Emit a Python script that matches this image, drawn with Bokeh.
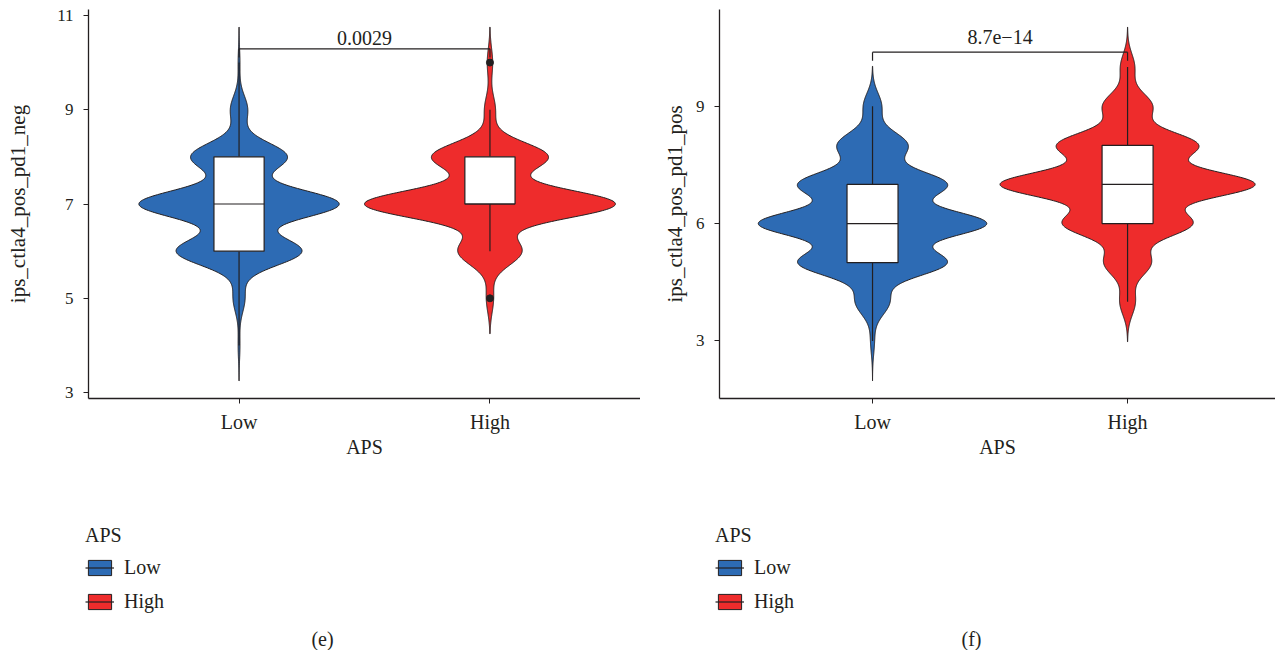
import numpy as np
from bokeh.plotting import figure
from bokeh.layouts import row, column
from bokeh.models import FixedTicker, Legend, LegendItem, Label, Range1d
from bokeh.embed import file_html
from bokeh.resources import INLINE

# ---------------- data ----------------
groups = ["Low", "High"]
group_colors = ["#2D6BB4", "#EE2C2C"]

# panel (e): ips_ctla4_pos_pd1_neg  -- counts of patients per integer score
scores_e = [4, 5, 6, 7, 8, 9, 10]
low_counts_e = [2, 13, 138, 220, 106, 19, 2]
high_counts_e = [0, 4, 35, 138, 64, 6, 3]
yticks_e = [3, 5, 7, 9, 11]
pval_e = "0.0029"

# panel (f): ips_ctla4_pos_pd1_pos
scores_f = [3, 4, 5, 6, 7, 8, 9, 10]
low_counts_f = [3, 26, 114, 175, 114, 54, 14, 0]
high_counts_f = [0, 12, 36, 99, 196, 108, 38, 11]
yticks_f = [3, 6, 9]
pval_f = "8.7e\u221214"

# gaussian density bandwidth and tail cut (in bandwidths) per panel
bw_e, cut_e = 0.30, 2.5
bw_f, cut_f = 0.34, 3.0

FONT = "Liberation Serif"
INK = "#231f20"


def kde(scores, counts, bw, cut, n=512):
    s = np.asarray(scores, float)
    c = np.asarray(counts, float)
    m = c > 0
    s, c = s[m], c[m]
    y = np.linspace(s.min() - cut * bw, s.max() + cut * bw, n)
    d = (c[None, :] * np.exp(-0.5 * ((y[:, None] - s[None, :]) / bw) ** 2)).sum(1)
    d /= c.sum() * bw * np.sqrt(2 * np.pi)
    return y, d


def box_stats(scores, counts):
    data = np.repeat(np.asarray(scores, float), counts)
    q1, med, q3 = np.percentile(data, [25, 50, 75])
    iqr = q3 - q1
    lo_f, hi_f = q1 - 1.5 * iqr, q3 + 1.5 * iqr
    wlo = data[data >= lo_f].min()
    whi = data[data <= hi_f].max()
    out = np.unique(data[(data < lo_f) | (data > hi_f)])
    return q1, med, q3, wlo, whi, out


def violin_shapes(scores, counts_list, bw, cut):
    dens = [kde(scores, c, bw, cut) for c in counts_list]
    dmax = max(d.max() for _, d in dens)
    shapes = []
    for i, (y, d) in enumerate(dens):
        cx = i + 1
        hw = 0.5 * d / dmax
        shapes.append((np.concatenate([cx - hw, (cx + hw)[::-1]]), np.concatenate([y, y[::-1]])))
    ymin = min(y.min() for y, _ in dens)
    ymax = max(y.max() for y, _ in dens)
    return shapes, ymin, ymax


def style_axis(ax):
    ax.axis_line_color = INK
    ax.axis_line_width = 1.3
    ax.major_tick_line_color = INK
    ax.major_tick_line_width = 1
    ax.major_tick_out = 5
    ax.major_tick_in = 0
    ax.minor_tick_line_color = None
    ax.major_label_text_font = FONT
    ax.major_label_text_color = INK
    ax.axis_label_text_font = FONT
    ax.axis_label_text_color = INK
    ax.axis_label_text_font_style = "normal"


def make_panel(scores, counts_list, bw, cut, yticks, ylabel, pval, pval_y, bracket_y,
               width, border_left, x_end, ylab_standoff):
    shapes, ymin, ymax = violin_shapes(scores, counts_list, bw, cut)
    pad = 0.05 * (ymax - ymin)

    p = figure(width=width, height=460, output_backend="svg", toolbar_location=None,
               x_range=Range1d(0.4, x_end), y_range=Range1d(ymin - pad, ymax + pad),
               min_border_left=border_left, min_border_right=0, min_border_top=9,
               min_border_bottom=59)
    p.outline_line_color = None
    p.grid.visible = False

    for i, (xs, ys) in enumerate(shapes):
        p.patch(xs, ys, fill_color=group_colors[i], line_color=INK, line_width=1)

    for i, counts in enumerate(counts_list):
        cx = i + 1
        q1, med, q3, wlo, whi, out = box_stats(scores, counts)
        p.segment(x0=[cx, cx], y0=[q3, q1], x1=[cx, cx], y1=[whi, wlo], line_color=INK, line_width=1.2)
        p.quad(left=[cx - 0.1], right=[cx + 0.1], bottom=[q1], top=[q3],
               fill_color="white", line_color=INK, line_width=1.2)
        p.segment(x0=[cx - 0.1], y0=[med], x1=[cx + 0.1], y1=[med], line_color=INK, line_width=1.2)
        if len(out):
            p.scatter(x=[cx] * len(out), y=out, size=7, color=INK)

    # comparison bracket
    tip = 0.022 * (ymax - ymin + 2 * pad)
    p.segment(x0=[1, 1, 2], y0=[bracket_y, bracket_y, bracket_y], x1=[2, 1, 2],
              y1=[bracket_y, bracket_y - tip, bracket_y - tip], line_color=INK, line_width=1.2)
    p.text(x=[1.5], y=[pval_y], text=[pval], text_align="center", text_baseline="bottom",
           text_font={"value": FONT}, text_font_size="20px", text_color=INK)

    xa, ya = p.xaxis[0], p.yaxis[0]
    style_axis(xa)
    style_axis(ya)
    xa.ticker = FixedTicker(ticks=[1, 2])
    xa.major_label_overrides = {1: groups[0], 2: groups[1]}
    xa.axis_label = "APS"
    xa.major_label_text_font_size = "20px"
    xa.axis_label_text_font_size = "20px"
    xa.major_label_standoff = 7
    xa.axis_label_standoff = 0
    ya.ticker = FixedTicker(ticks=yticks)
    ya.axis_label = ylabel
    ya.major_label_text_font_size = "17px"
    ya.axis_label_text_font_size = "21px"
    ya.major_label_standoff = 10
    ya.axis_label_standoff = ylab_standoff
    return p


def make_legend_box(scores, counts_list, bw, cut, width, legend_x, caption, caption_x):
    # key glyphs reuse the panel's own violin/median renderers' styles; their data lie
    # outside this small figure's ranges, so only the legend keys show
    shapes, _, _ = violin_shapes(scores, counts_list, bw, cut)
    q = figure(width=width, height=190, output_backend="svg", toolbar_location=None,
               x_range=Range1d(-2, -1), y_range=Range1d(-2, -1),
               x_axis_type=None, y_axis_type=None, min_border=0)
    q.outline_line_color = None
    q.grid.visible = False
    items = []
    for i, g in enumerate(groups):
        xs, ys = shapes[i]
        sw = q.patch(xs, ys, fill_color=group_colors[i], line_color=INK, line_width=1)
        med = box_stats(scores, counts_list[i])[1]
        md = q.segment(x0=[i + 0.9], y0=[med], x1=[i + 1.1], y1=[med], line_color=INK, line_width=1.2)
        items.append(LegendItem(label=g, renderers=[sw, md]))
    legend = Legend(items=items, title="APS", location=(legend_x, 37), orientation="vertical",
                    glyph_width=29, glyph_height=19, label_standoff=10,
                    spacing=11, padding=0, margin=0, border_line_color=None,
                    background_fill_alpha=0, title_standoff=9,
                    label_text_font=FONT, label_text_font_size="20px", label_text_color=INK,
                    title_text_font=FONT, title_text_font_size="20px",
                    title_text_font_style="normal", title_text_color=INK)
    q.add_layout(legend)
    q.add_layout(Label(x=caption_x, y=12, x_units="screen", y_units="screen", text=caption,
                       text_align="center", text_baseline="middle", text_font=FONT,
                       text_font_size="20px", text_color=INK))
    return q


p_e = make_panel(scores_e, [low_counts_e, high_counts_e], bw_e, cut_e, yticks_e,
                 "ips_ctla4_pos_pd1_neg", pval_e, 10.38, 10.29,
                 width=640, border_left=88, x_end=2.6, ylab_standoff=24)
p_f = make_panel(scores_f, [low_counts_f, high_counts_f], bw_f, cut_f, yticks_f,
                 "ips_ctla4_pos_pd1_pos", pval_f, 10.58, 10.38,
                 width=635, border_left=79, x_end=2.58, ylab_standoff=6)
l_e = make_legend_box(scores_e, [low_counts_e, high_counts_e], bw_e, cut_e, 640, 85, "(e)", 322)
l_f = make_legend_box(scores_f, [low_counts_f, high_counts_f], bw_f, cut_f, 635, 75, "(f)", 331)

layout = column(row(p_e, p_f), row(l_e, l_f))
open("out.html", "w").write(file_html(layout, INLINE))
